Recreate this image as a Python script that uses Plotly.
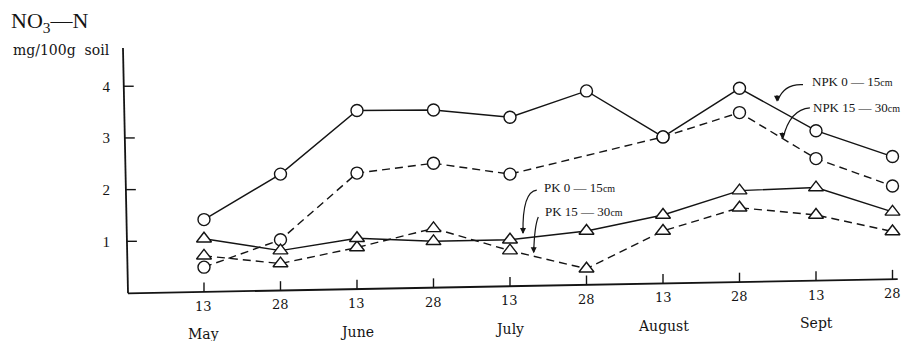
import plotly.graph_objects as go

# Sampling dates (day of month) and the months they fall in
tick_days = ["13", "28", "13", "28", "13", "28", "13", "28", "13", "28"]
months = ["May", "June", "July", "August", "Sept"]
y_ticks = [1, 2, 3, 4]

# NO3-N, mg/100 g soil
npk_0_15 = [1.42, 2.30, 3.53, 3.54, 3.40, 3.91, 3.02, 3.96, 3.14, 2.64]
npk_15_30 = [0.50, 1.03, 2.32, 2.51, 2.30, None, 3.02, 3.49, 2.60, 2.07]
pk_0_15 = [1.05, 0.82, 1.06, 1.00, 1.03, 1.20, 1.51, 1.98, 2.04, 1.57]
pk_15_30 = [0.72, 0.57, 0.88, 1.25, 0.82, 0.47, 1.20, 1.65, 1.51, 1.19]

x_idx = list(range(len(tick_days)))
INK = "#141414"
SERIF = "Liberation Serif, Times New Roman, serif"
WIDE_SERIF = "DejaVu Serif, serif"

X_RANGE = [-1.124, 9.098]
Y_RANGE = [-0.0387, 4.74]
# The hand-drawn frame leans slightly: the baseline rises toward the right
# and the vertical axis leans left toward the top.
BASE_Y0 = -0.006          # baseline height at the left end (data units)
BASE_SLOPE = 0.0274       # rise of the baseline per index step, in y units
Y_AXIS_X0 = -0.993        # foot of the vertical axis
Y_AXIS_LEAN = -0.0139     # horizontal drift of the vertical axis per y unit


def base_y(x):
    return BASE_Y0 + BASE_SLOPE * (x - Y_AXIS_X0)


def axis_x(y):
    return Y_AXIS_X0 + Y_AXIS_LEAN * y


fig = go.Figure()


def add_series(values, symbol, dash, size):
    fig.add_trace(go.Scatter(
        x=x_idx, y=values, mode="lines+markers", connectgaps=True,
        line=dict(color=INK, width=1.4, dash=dash),
        marker=dict(symbol=symbol, size=size, color="white",
                    line=dict(color=INK, width=1.4)),
        showlegend=False, hoverinfo="skip", cliponaxis=False,
    ))


add_series(npk_15_30, "circle", "8px,5px", 12)
add_series(npk_0_15, "circle", "solid", 12)
add_series(pk_15_30, "triangle-up", "8px,5px", 13)
add_series(pk_0_15, "triangle-up", "solid", 13)

# Frame: baseline and vertical axis
x_end = X_RANGE[1] - 0.03
fig.add_shape(type="line", xref="x", yref="y",
              x0=Y_AXIS_X0, y0=base_y(Y_AXIS_X0), x1=x_end, y1=base_y(x_end),
              line=dict(color=INK, width=1.8))
y_top = Y_RANGE[1]
fig.add_shape(type="line", xref="x", yref="y",
              x0=axis_x(0), y0=base_y(Y_AXIS_X0), x1=axis_x(y_top), y1=y_top,
              line=dict(color=INK, width=1.8))

# Ticks and labels on the baseline
for i, day in zip(x_idx, tick_days):
    b = base_y(i)
    fig.add_shape(type="line", xref="x", yref="y", x0=i, y0=b, x1=i,
                  y1=b + 0.18, line=dict(color=INK, width=1.4))
    fig.add_annotation(x=i, y=b, text=day, showarrow=False,
                       yanchor="middle", yshift=-14.5,
                       font=dict(family=WIDE_SERIF, size=13, color=INK))

# Month names under the first sampling date of each month
for k, m in enumerate(months):
    i = 2 * k
    fig.add_annotation(x=i, y=base_y(i), text=m, showarrow=False,
                       yanchor="middle", yshift=-42.5,
                       font=dict(family=WIDE_SERIF, size=14, color=INK))

# Ticks on the vertical axis
for v in y_ticks:
    ax0 = axis_x(v)
    fig.add_shape(type="line", xref="x", yref="y", x0=ax0, y0=v,
                  x1=ax0 + 0.13, y1=v, line=dict(color=INK, width=1.4))

# Series labels with curved pointer lines
labels = [
    ("NPK 0 — 15<span style='font-size:10px'>cm</span>", 7.92, 4.10,
     "M 7.83,4.03 Q 7.58,4.05 7.50,3.72", 7.49, 3.70),
    ("NPK 15 — 30<span style='font-size:10px'>cm</span>", 7.93, 3.59,
     "M 7.92,3.58 Q 7.66,3.55 7.57,3.00", 7.56, 2.98),
    ("PK 0 — 15<span style='font-size:10px'>cm</span>", 4.42, 2.04,
     "M 4.35,1.99 Q 4.16,1.96 4.17,1.16", 4.17, 1.14),
    ("PK 15 — 30<span style='font-size:10px'>cm</span>", 4.43, 1.57,
     "M 4.37,1.47 Q 4.32,1.30 4.31,0.79", 4.31, 0.77),
]
for text, tx, ty, path, hx, hy in labels:
    fig.add_annotation(x=tx, y=ty, text=text, showarrow=False,
                       xanchor="left", yanchor="middle",
                       font=dict(family=SERIF, size=13, color=INK))
    fig.add_shape(type="path", path=path, xref="x", yref="y",
                  line=dict(color=INK, width=1.2))
    fig.add_annotation(x=hx, y=hy, ax=0, ay=-8, text="", showarrow=True,
                       arrowhead=2, arrowsize=1, arrowwidth=1.2,
                       arrowcolor=INK)

# Quantity and unit at top left
fig.add_annotation(xref="paper", yref="paper", x=-0.140, y=1.105,
                   xanchor="left", yanchor="middle",
                   text="NO<sub>3</sub>—N", showarrow=False,
                   font=dict(family=SERIF, size=22, color=INK))
fig.add_annotation(xref="paper", yref="paper", x=-0.137, y=0.992,
                   xanchor="left", yanchor="middle",
                   text="mg/100g  soil", showarrow=False,
                   font=dict(family=WIDE_SERIF, size=14, color=INK))

fig.update_xaxes(range=X_RANGE, showgrid=False, zeroline=False,
                 showline=False, showticklabels=False, ticks="")
fig.update_yaxes(
    range=Y_RANGE, tickvals=y_ticks, showgrid=False, zeroline=False,
    showline=False, ticks="", ticklabelstandoff=7,
    tickfont=dict(family=SERIF, size=15, color=INK),
)
fig.update_layout(
    width=911, height=341,
    margin=dict(l=118, r=11, t=48, b=46),
    paper_bgcolor="white", plot_bgcolor="white",
)

fig.write_html("out.html")
